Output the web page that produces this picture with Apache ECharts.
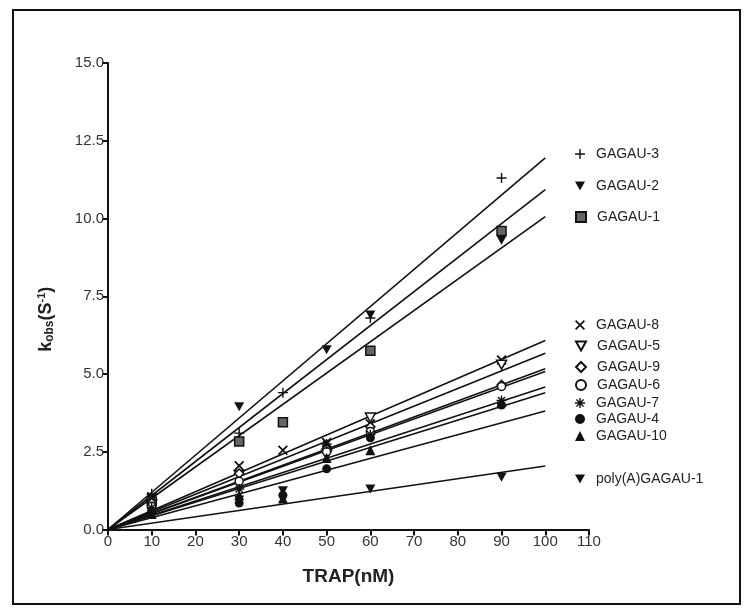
<!DOCTYPE html>
<html><head><meta charset="utf-8">
<script src="https://cdn.jsdelivr.net/npm/echarts@6/dist/echarts.min.js"></script>
<style>html,body{margin:0;padding:0;background:#fff}#c{width:751px;height:615px}</style>
</head><body><div id="c"></div>
<script>
const xTicks = [0,10,20,30,40,50,60,70,80,90,100,110];
const names = ['GAGAU-3','GAGAU-2','GAGAU-1','GAGAU-8','GAGAU-5','GAGAU-9','GAGAU-6','GAGAU-7','GAGAU-4','GAGAU-10','poly(A)GAGAU-1'];
const gagau3 = [[10,1.15],[30,3.1],[40,4.4],[60,6.8],[90,11.3]];
const gagau2 = [[10,1.0],[30,3.95],[50,5.78],[60,6.9],[90,9.3]];
const gagau1 = [[10,0.9],[30,2.83],[40,3.45],[60,5.75],[90,9.6]];
const gagau8 = [[10,1.05],[30,2.05],[40,2.55],[50,2.8],[60,3.4],[90,5.45]];
const gagau5 = [[10,0.8],[30,1.75],[50,2.4],[60,3.6],[90,5.3]];
const gagau9 = [[10,0.85],[30,1.8],[50,2.6],[60,3.3],[90,4.65]];
const gagau6 = [[10,0.75],[30,1.55],[50,2.5],[60,3.15],[90,4.6]];
const gagau7 = [[10,0.7],[30,1.3],[50,2.75],[60,3.05],[90,4.15]];
const gagau4 = [[10,0.6],[30,0.85],[40,1.1],[50,1.95],[60,2.95],[90,4.0]];
const gagau10 = [[10,0.5],[30,1.1],[40,1.0],[50,2.3],[60,2.55],[90,4.1]];
const polyA = [[10,0.55],[30,0.95],[40,1.25],[60,1.3],[90,1.68]];
const points = [gagau3,gagau2,gagau1,gagau8,gagau5,gagau9,gagau6,gagau7,gagau4,gagau10,polyA];
// fitted line values at x = 100 (lines through origin)
const fitX = 100;
const fitEnds = [11.95,10.93,10.06,6.08,5.67,5.17,5.08,4.58,4.40,3.81,2.04];

const PLUS = 'path://M4.3,0L5.7,0L5.7,10L4.3,10Z M0,4.3L10,4.3L10,5.7L0,5.7Z';
const CROSS = 'path://M0.96,1.96L1.96,0.96L9.04,8.04L8.04,9.04Z M8.04,0.96L9.04,1.96L1.96,9.04L0.96,8.04Z';
const STAR = 'path://M4.3,0L5.7,0L5.7,10L4.3,10Z M0,4.3L10,4.3L10,5.7L0,5.7Z M0.96,1.96L1.96,0.96L9.04,8.04L8.04,9.04Z M8.04,0.96L9.04,1.96L1.96,9.04L0.96,8.04Z';
const TRI_DOWN = 'path://M0,0L10,0L5,9Z';
const styles = [
  {symbol: PLUS, size: 10, fill: '#111', border: '#111', bw: 0},
  {symbol: TRI_DOWN, size: 10, fill: '#111', border: '#111', bw: 0},
  {symbol: 'rect', size: 9, fill: '#666', border: '#111', bw: 1.5},
  {symbol: CROSS, size: 10, fill: '#111', border: '#111', bw: 0},
  {symbol: TRI_DOWN, size: 10, fill: '#fff', border: '#111', bw: 1.5},
  {symbol: 'diamond', size: 9, fill: '#fff', border: '#111', bw: 1.5},
  {symbol: 'circle', size: 8, fill: '#fff', border: '#111', bw: 1.5},
  {symbol: STAR, size: 10, fill: '#111', border: '#111', bw: 0},
  {symbol: 'circle', size: 9, fill: '#111', border: '#111', bw: 0},
  {symbol: 'triangle', size: 10, fill: '#111', border: '#111', bw: 0},
  {symbol: TRI_DOWN, size: 10, fill: '#111', border: '#111', bw: 0}
];
const legendY = [150,182,213,321,342,363,381,399,415,432,475];

const series = [];
names.forEach((n,i) => {
  series.push({
    type: 'line', name: n + ' fit', data: [[0,0],[fitX,fitEnds[i]]],
    showSymbol: false, silent: true, z: 2,
    lineStyle: {color: '#111', width: 1.6}
  });
});
names.forEach((n,i) => {
  const s = styles[i];
  series.push({
    type: 'scatter', name: n, data: points[i], z: 5,
    symbol: s.symbol, symbolSize: s.size, symbolKeepAspect: true,
    itemStyle: {color: s.fill, borderColor: s.border, borderWidth: s.bw, opacity: 1}
  });
});

const legends = names.map((n,i) => ({
  data: [n], left: 570, top: legendY[i] - 8, orient: 'vertical',
  itemWidth: 10, itemHeight: 10, selectedMode: false,
  textStyle: {fontFamily: 'Liberation Sans', fontSize: 14, color: '#222', padding: [0,0,0,6]}
}));

const chart = echarts.init(document.getElementById('c'), null, {renderer: 'canvas'});
chart.setOption({
  animation: false,
  backgroundColor: '#fff',
  graphic: [{type: 'rect', shape: {x: 13, y: 10, width: 727, height: 594}, style: {fill: 'none', stroke: '#111', lineWidth: 2}, z: 0}],
  legend: legends,
  grid: {left: 108, right: 162, top: 63, bottom: 85.5},
  xAxis: {
    type: 'value', min: 0, max: 110, interval: 10,
    name: 'TRAP(nM)', nameLocation: 'middle', nameGap: 38,
    nameTextStyle: {fontFamily: 'Liberation Sans', fontSize: 19, fontWeight: 'bold', color: '#222'},
    axisLine: {lineStyle: {color: '#111', width: 2}},
    axisTick: {length: 6, lineStyle: {color: '#111', width: 2}},
    axisLabel: {fontFamily: 'Liberation Sans', fontSize: 15, color: '#333', margin: 5},
    splitLine: {show: false}
  },
  yAxis: {
    type: 'value', min: 0, max: 15, interval: 2.5,
    name: '{k|k}{sub|obs}{k|(S}{sup|-1}{k|)}', nameLocation: 'middle', nameGap: 52, nameRotate: 90,
    nameTextStyle: {padding: [0,46,0,0], rich: {
      k: {fontFamily: 'Liberation Sans', fontSize: 18, fontWeight: 'bold', color: '#222'},
      sub: {fontFamily: 'Liberation Sans', fontSize: 12, fontWeight: 'bold', color: '#222', verticalAlign: 'bottom', padding: [8,0,0,0]},
      sup: {fontFamily: 'Liberation Sans', fontSize: 11, fontWeight: 'bold', color: '#222', verticalAlign: 'top', padding: [0,0,8,0]}
    }},
    axisLine: {lineStyle: {color: '#111', width: 2}},
    axisTick: {length: 6, lineStyle: {color: '#111', width: 2}},
    axisLabel: {fontFamily: 'Liberation Sans', fontSize: 15, color: '#333', margin: 4,
      formatter: v => v.toFixed(1)},
    splitLine: {show: false}
  },
  series: series
});
</script></body></html>
